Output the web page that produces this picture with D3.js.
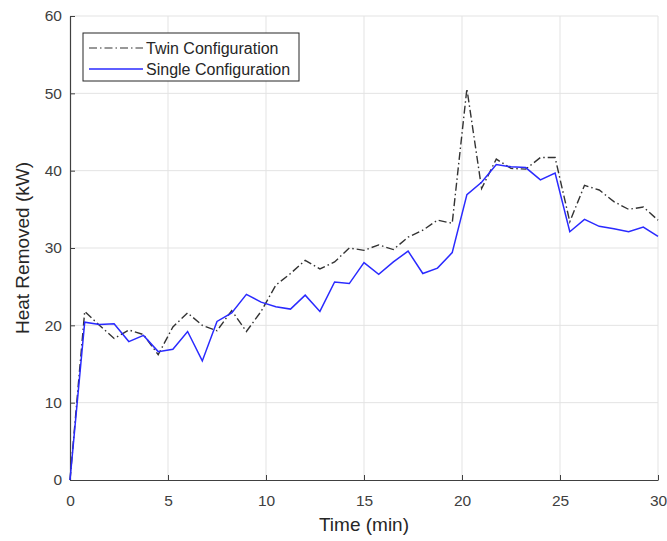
<!DOCTYPE html>
<html>
<head>
<meta charset="utf-8">
<script src="https://cdn.jsdelivr.net/npm/d3@7"></script>
<style>
  body { margin: 0; background: #fff; }
  svg { font-family: 'Liberation Sans', Arial, sans-serif; }
</style>
</head>
<body>
<svg width="667" height="541"></svg>
<script>
// time in minutes, one sample every 0.75 min
const time = d3.range(41).map(i => i * 0.75);
const twin = [0, 21.8, 20.0, 18.3, 19.4, 18.8, 16.2, 19.8, 21.6, 20.0, 19.3, 21.9, 19.2, 21.8,
  25.2, 26.7, 28.4, 27.3, 28.2, 30.0, 29.7, 30.4, 29.8, 31.4, 32.3, 33.6, 33.2, 50.6, 37.7,
  41.5, 40.3, 40.2, 41.7, 41.7, 33.4, 38.1, 37.5, 36.0, 35.0, 35.3, 33.6];
const single = [0, 20.4, 20.1, 20.2, 17.9, 18.7, 16.6, 16.9, 19.2, 15.4, 20.5, 21.6, 24.0, 23.0,
  22.4, 22.1, 23.9, 21.8, 25.6, 25.4, 28.1, 26.6, 28.2, 29.6, 26.7, 27.4, 29.4, 36.9, 38.5,
  40.8, 40.5, 40.4, 38.8, 39.7, 32.1, 33.7, 32.8, 32.5, 32.1, 32.7, 31.5];
const xTicks = [0, 5, 10, 15, 20, 25, 30];
const yTicks = [0, 10, 20, 30, 40, 50, 60];
const seriesNames = ['Twin Configuration', 'Single Configuration'];

const margin = { top: 16, right: 9, bottom: 61, left: 70 };
const svg = d3.select('svg');
const width = +svg.attr('width') - margin.left - margin.right;
const height = +svg.attr('height') - margin.top - margin.bottom;
const g = svg.append('g').attr('transform', `translate(${margin.left},${margin.top})`);

const x = d3.scaleLinear().domain([0, 30]).range([0, width]);
const y = d3.scaleLinear().domain([0, 60]).range([height, 0]);

// grid
g.append('g')
  .selectAll('line')
  .data(xTicks.slice(1))
  .enter()
  .append('line')
  .attr('x1', d => x(d)).attr('x2', d => x(d))
  .attr('y1', 0).attr('y2', height)
  .attr('stroke', '#e3e3e3');
g.append('g')
  .selectAll('line')
  .data(yTicks.slice(1))
  .enter()
  .append('line')
  .attr('x1', 0).attr('x2', width)
  .attr('y1', d => y(d)).attr('y2', d => y(d))
  .attr('stroke', '#e3e3e3');

// axes (ticks point inward)
const xAxis = g.append('g')
  .attr('transform', `translate(0,${height})`)
  .call(d3.axisBottom(x).tickValues(xTicks).tickSizeInner(-5).tickSizeOuter(0).tickPadding(15));
const yAxis = g.append('g')
  .call(d3.axisLeft(y).tickValues(yTicks).tickSizeInner(-5).tickSizeOuter(0).tickPadding(8));
[xAxis, yAxis].forEach(a => {
  a.select('.domain').attr('stroke', '#404040').attr('stroke-width', 1.2);
  a.selectAll('.tick line').attr('stroke', '#404040');
  a.selectAll('.tick text')
    .attr('fill', '#404040')
    .style('font-size', '15.5px')
    .style('font-family', "'Liberation Sans', Arial, sans-serif");
});

// lines
const line = vals => d3.line()
  .x((d, i) => x(time[i]))
  .y(d => y(d))(vals);

g.append('path')
  .attr('d', line(twin))
  .attr('fill', 'none')
  .attr('stroke', '#333')
  .attr('stroke-width', 1.4)
  .attr('stroke-dasharray', '8,3,1.5,3');

g.append('path')
  .attr('d', line(single))
  .attr('fill', 'none')
  .attr('stroke', '#2a2aff')
  .attr('stroke-width', 1.5);

// axis titles
svg.append('text')
  .attr('x', margin.left + width / 2)
  .attr('y', 531)
  .attr('text-anchor', 'middle')
  .attr('fill', '#262626')
  .style('font-size', '19px')
  .text('Time (min)');

svg.append('text')
  .attr('transform', `translate(29,${margin.top + height / 2}) rotate(-90)`)
  .attr('text-anchor', 'middle')
  .attr('fill', '#262626')
  .style('font-size', '19px')
  .text('Heat Removed (kW)');

// legend
const legend = svg.append('g').attr('transform', 'translate(83,33)');
legend.append('rect')
  .attr('width', 216)
  .attr('height', 48)
  .attr('fill', '#fff')
  .attr('stroke', '#262626')
  .attr('stroke-width', 1);
const items = legend.selectAll('g.item')
  .data(seriesNames)
  .enter()
  .append('g')
  .attr('class', 'item')
  .attr('transform', (d, i) => `translate(0,${15 + i * 21})`);
items.append('line')
  .attr('x1', 6).attr('x2', 60)
  .attr('stroke', (d, i) => (i === 0 ? '#333' : '#2a2aff'))
  .attr('stroke-width', (d, i) => (i === 0 ? 1.2 : 1.5))
  .attr('stroke-dasharray', (d, i) => (i === 0 ? '8,3,1.5,3' : null));
items.append('text')
  .attr('x', 63)
  .attr('dy', '0.35em')
  .attr('fill', '#262626')
  .style('font-size', '16px')
  .text(d => d);
</script>
</body>
</html>
